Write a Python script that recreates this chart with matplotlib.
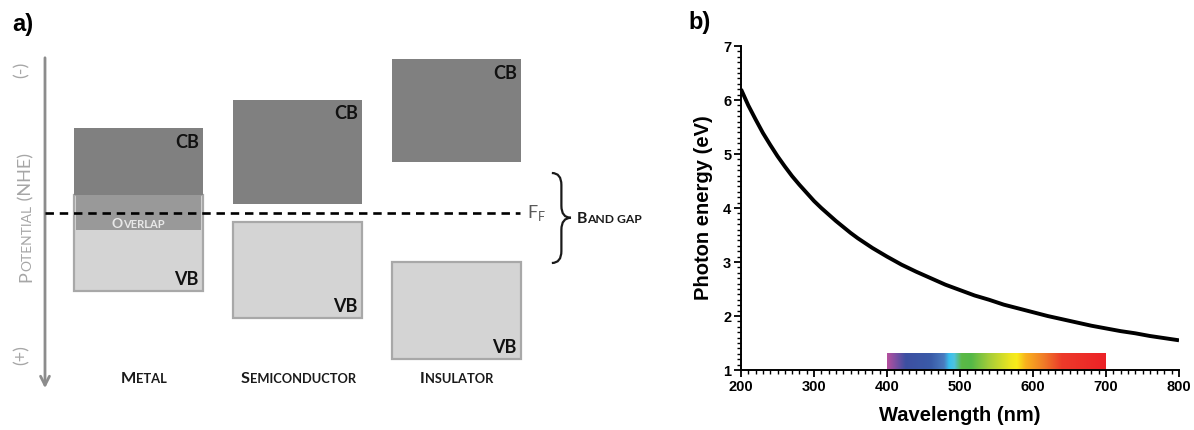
import numpy as np
import matplotlib
matplotlib.use("Agg")
import matplotlib.pyplot as plt
from matplotlib.path import Path
from matplotlib.patches import PathPatch
from matplotlib.colors import LinearSegmentedColormap
from matplotlib.ticker import MultipleLocator
from matplotlib.transforms import offset_copy

# ---- panel a data (potential, arbitrary units, Fermi level = 0, positive downward)
materials = ["Metal", "Semiconductor", "Insulator"]
cb_top = [-2.12, -2.83, -3.85]
cb_bottom = [-0.45, -0.22, -1.28]
vb_top = [-0.45, 0.22, 1.22]
vb_bottom = [1.95, 2.62, 3.65]
overlap_bottom = 0.42
fermi_level = 0.0

# ---- panel b data
wavelength = [200, 210, 220, 230, 240, 250, 260, 270, 280, 290, 300, 310, 320, 330, 340, 350, 360,
              380, 400, 420, 440, 460, 480, 500, 520, 540, 560, 580, 600, 620, 640, 660, 680,
              700, 720, 740, 760, 780, 800]
energy = [6.20, 5.90, 5.64, 5.39, 5.17, 4.96, 4.77, 4.59, 4.43, 4.28, 4.13, 4.00, 3.88, 3.76, 3.65,
          3.54, 3.44, 3.26, 3.10, 2.95, 2.82, 2.70, 2.58, 2.48, 2.38, 2.30, 2.21, 2.14, 2.07, 2.00,
          1.94, 1.88, 1.82, 1.77, 1.72, 1.68, 1.63, 1.59, 1.55]
spec_nm = [400, 412, 425, 460, 478, 485, 492, 502, 515, 540, 570, 578, 590, 615, 640, 700]
spec_col = ["#b5509e", "#7b4fa3", "#3d4fa1", "#3a5ba8", "#4a7cc0", "#38c0ee", "#4fc3e0", "#5cb946",
            "#54b848", "#a5cd39", "#efe620", "#f8ec1a", "#f9b21d", "#f07c28", "#ec3a2a", "#ec2227"]
spec_range = (400, 700)
spec_top = 1.3

fig = plt.figure(figsize=(11.94, 4.30), dpi=100)
renderer = fig.canvas.get_renderer()

# ================= panel a =================
ax = fig.add_axes([0, 0, 680 / 1194, 1])
ax.set_xlim(-0.871, 3.406)
ax.set_ylim(5.425, -5.325)
ax.axis("off")
FA = "Lato"
xs = np.arange(len(materials))
w = 0.81

ax.bar(xs, np.subtract(vb_bottom, vb_top), bottom=vb_top, width=w,
       color="#d4d4d4", edgecolor="#a8a8a8", linewidth=1.6, zorder=2)
ax.bar(xs[0], overlap_bottom - vb_top[0], bottom=vb_top[0], width=w - 0.02,
       color="#999999", edgecolor="none", zorder=3)
ax.bar(xs, np.subtract(cb_bottom, cb_top), bottom=cb_top, width=w,
       color="#808080", edgecolor="none", zorder=2)

for i in xs:
    ax.annotate("CB", xy=(i + w / 2, cb_top[i]), xytext=(-3, -4), textcoords="offset points",
                ha="right", va="top", fontsize=13, fontweight="bold", family=FA, color="#111111", zorder=5)
    ax.annotate("VB", xy=(i + w / 2, vb_bottom[i]), xytext=(-3, 2), textcoords="offset points",
                ha="right", va="bottom", fontsize=13, fontweight="bold", family=FA, color="#111111", zorder=5)

# Fermi level
ax.plot([-0.588, 2.40], [fermi_level, fermi_level], color="black", lw=1.9,
        linestyle=(0, (3.2, 2.2)), zorder=4)
ax.text(2.445, fermi_level, r"F$_\mathregular{F}$", fontsize=13, family=FA, color="#595959",
        ha="left", va="center")

# potential arrow
ax.annotate("", xy=(-0.588, 4.45), xytext=(-0.588, -3.95),
            arrowprops=dict(arrowstyle="->", color="#8c8c8c", lw=2, mutation_scale=16))


def smallcaps(x, y, parts, color, weight="bold", rotation=0):
    # pieces share one baseline, each placed after the previous one
    dx, dy = 0.0, 0.0
    for s, size in parts:
        tr = offset_copy(ax.transData, fig=fig, x=dx, y=dy, units="dots")
        t = ax.text(x, y, s, transform=tr, fontsize=size, color=color, fontweight=weight,
                    family=FA, ha="left", va="baseline", rotation=rotation,
                    rotation_mode="anchor", zorder=6)
        bb = t.get_window_extent(renderer)
        if rotation == 0:
            dx += bb.width
        else:
            dy += bb.height


smallcaps(-0.110, 4.25, [("M", 11.7), ("ETAL", 9.3)], "#1a1a1a")
smallcaps(0.645, 4.25, [("S", 11.7), ("EMICONDUCTOR", 9.3)], "#1a1a1a")
smallcaps(1.770, 4.25, [("I", 11.7), ("NSULATOR", 9.3)], "#1a1a1a")
smallcaps(2.758, 0.24, [("B", 11.3), ("AND GAP", 8.7)], "#1a1a1a")
smallcaps(-0.167, 0.37, [("O", 10), ("VERLAP", 8)], "#e8e8e8")
smallcaps(-0.675, 1.72, [("P", 13), ("OTENTIAL", 10), (" (NHE)", 13)], "#a6a6a6", weight="normal", rotation=90)
ax.text(-0.733, -3.58, "(-)", rotation=90, fontsize=13, color="#a6a6a6", family=FA, ha="center", va="center")
ax.text(-0.733, 3.55, "(+)", rotation=90, fontsize=13, color="#a6a6a6", family=FA, ha="center", va="center")

# brace for band gap
xl, xm, xt = 2.60, 2.66, 2.72
yt, ym, yb = -1.0, 0.12, 1.25
r = 0.3
verts = [(xl, yt), (xm, yt), (xm, yt + r), (xm, ym - r), (xm, ym), (xt, ym),
         (xm, ym), (xm, ym + r), (xm, yb - r), (xm, yb), (xl, yb)]
codes = [Path.MOVETO, Path.CURVE3, Path.CURVE3, Path.LINETO, Path.CURVE3, Path.CURVE3,
         Path.CURVE3, Path.CURVE3, Path.LINETO, Path.CURVE3, Path.CURVE3]
ax.add_patch(PathPatch(Path(verts, codes), facecolor="none", edgecolor="#1a1a1a", lw=1.6))

fig.text(12 / 1194, 1 - 25 / 430, "a)", fontsize=17, fontweight="bold", family="Liberation Sans",
         va="center", ha="left")

# ================= panel b =================
FB = "Liberation Sans"
bx = fig.add_axes([741 / 1194, 60 / 430, 438 / 1194, 324 / 430])
bx.plot(wavelength, energy, color="black", lw=2.8, solid_capstyle="butt")
cmap = LinearSegmentedColormap.from_list(
    "spec", [((n - spec_range[0]) / (spec_range[1] - spec_range[0]), c) for n, c in zip(spec_nm, spec_col)])
grad = np.linspace(0, 1, 512).reshape(1, -1)
bx.imshow(grad, cmap=cmap, aspect="auto", extent=[spec_range[0], spec_range[1], 1, spec_top],
          interpolation="bilinear", zorder=1)
bx.set_xlim(200, 800)
bx.set_ylim(1, 7)
bx.xaxis.set_major_locator(MultipleLocator(100))
bx.xaxis.set_minor_locator(MultipleLocator(10))
bx.yaxis.set_major_locator(MultipleLocator(1))
bx.yaxis.set_minor_locator(MultipleLocator(0.1))
for s in ["top", "right"]:
    bx.spines[s].set_visible(False)
for s in ["left", "bottom"]:
    bx.spines[s].set_linewidth(1.4)
bx.tick_params(which="major", direction="out", length=5, width=1.3, labelsize=10.5, pad=2)
bx.tick_params(which="minor", direction="out", length=3, width=1.0)
for lab in bx.get_xticklabels() + bx.get_yticklabels():
    lab.set_fontweight("bold")
    lab.set_family(FB)
bx.set_xlabel("Wavelength (nm)", fontsize=14.5, fontweight="bold", family=FB, labelpad=9)
bx.set_ylabel("Photon energy (eV)", fontsize=14.5, fontweight="bold", family=FB, labelpad=7)
fig.text(688 / 1194, 1 - 22 / 430, "b)", fontsize=17, fontweight="bold", family=FB, va="center", ha="left")

fig.savefig("out.png", dpi=100)
